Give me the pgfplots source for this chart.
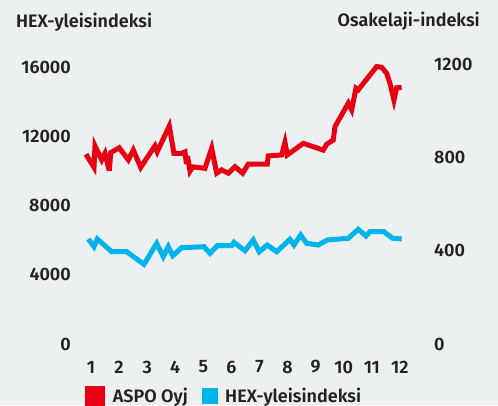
\documentclass[border=0pt]{standalone}
\usepackage{fontspec}
\setmainfont{Fira Sans}[BoldFont={Fira Sans SemiBold}]
\usepackage{pgfplots}
\pgfplotsset{compat=1.18}
\definecolor{bg}{RGB}{236,240,241}
\definecolor{aspo}{RGB}{230,0,18}
\definecolor{hexc}{RGB}{0,180,235}
\definecolor{txt}{RGB}{34,34,34}
\newcommand\lbl{\fontsize{18bp}{21bp}\selectfont\bfseries\color{txt}}
\begin{document}
\begin{tikzpicture}
\fill[bg] (0,0) rectangle (498bp,-405bp);
\node[anchor=base west, inner sep=0, font=\lbl] at (16bp,-27.5bp) {HEX-yleisindeksi};
\node[anchor=base east, inner sep=0, font=\lbl] at (480bp,-26.5bp) {Osakelaji-indeksi};
\begin{axis}[
  at={(76bp,-344bp)}, anchor=south west,
  scale only axis, width=354bp, height=284bp,
  xmin=0.466, xmax=13.07, ymin=0, ymax=16404,
  xtick={1,...,12}, ytick={0,4000,8000,12000,16000},
  scaled y ticks=false,
  axis line style={draw=none}, tick style={draw=none},
  /pgf/number format/1000 sep={}, /pgf/number format/assume math mode=true,
  ticklabel style={font=\lbl, inner sep=0},
  xticklabel style={anchor=center, yshift=-23bp},
  yticklabel style={anchor=east, xshift=-5bp},
  clip=false,
]
\addplot[color=hexc, line width=5bp, line join=miter, miter limit=6] coordinates {
(0.904,6065) (1.107,5620) (1.224,6065) (1.737,5331) (2.271,5331) (2.887,4603)
(3.339,5816) (3.574,5042) (3.752,5620) (3.908,5100) (4.229,5562) (5.023,5620)
(5.236,5239) (5.496,5678) (6.009,5678) (6.091,5874) (6.482,5389) (6.778,6007)
(6.991,5331) (7.276,5718) (7.611,5331) (8.084,6047) (8.227,5718) (8.465,6296)
(8.679,5816) (9.092,5718) (9.412,6007) (10.160,6105) (10.516,6625) (10.790,6238)
(10.932,6486) (11.431,6486) (11.741,6105) (12.061,6065)
};
\end{axis}
\begin{axis}[
  at={(76bp,-344bp)}, anchor=south west,
  scale only axis, width=354bp, height=284bp,
  xmin=0.466, xmax=13.07, ymin=0, ymax=1217,
  hide x axis, axis y line*=right,
  ytick={0,400,800,1200},
  scaled y ticks=false,
  axis line style={draw=none}, tick style={draw=none},
  /pgf/number format/1000 sep={}, /pgf/number format/assume math mode=true,
  ticklabel style={font=\lbl, inner sep=0},
  yticklabel style={anchor=west, xshift=4bp},
  clip=false,
  legend columns=2,
  legend style={at={(axis description cs:0.025,-0.183)}, anchor=west,
    draw=none, fill=none, font=\lbl, inner sep=0, outer sep=0,
    nodes={inner sep=0},
    column sep=8bp,
    /tikz/every even column/.append style={column sep=14bp}},
  legend image code/.code={\fill[#1] (0bp,-7.5bp) rectangle (15bp,7.5bp);},
]
\addplot[color=aspo, line width=5bp, line join=miter, miter limit=6] coordinates {
(0.822,813) (1.107,757) (1.142,849) (1.381,789) (1.498,817) (1.651,743)
(1.701,820) (2.007,841) (2.328,789) (2.506,831) (2.769,757) (3.278,849)
(3.360,824) (3.787,934) (3.955,817) (4.229,817) (4.346,823) (4.400,771)
(4.435,806) (4.524,741) (4.620,759) (5.058,753) (5.297,839) (5.475,732)
(5.653,746) (5.888,732) (6.126,760) (6.401,732) (6.600,771) (7.276,771)
(7.312,806) (7.789,810) (7.906,864) (7.988,810) (8.558,860) (9.270,831)
(9.391,856) (9.626,874) (9.686,931) (10.160,1032) (10.281,1003) (10.434,1096)
(10.516,1089) (11.171,1189) (11.349,1186) (11.527,1160) (11.644,1117)
(11.787,1045) (11.883,1098) (12.061,1100)
};
\addlegendentry{ASPO Oyj}
\addlegendimage{color=hexc}
\addlegendentry{HEX-yleisindeksi}
\end{axis}
\end{tikzpicture}
\end{document}
